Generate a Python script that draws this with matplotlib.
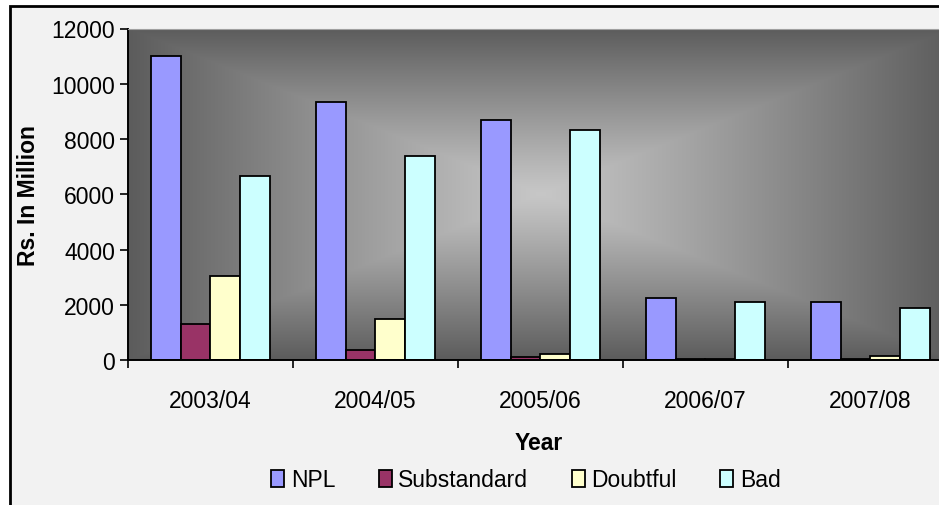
import matplotlib
matplotlib.use("Agg")
import matplotlib.pyplot as plt
import numpy as np
from matplotlib.patches import Rectangle

years = ["2003/04", "2004/05", "2005/06", "2006/07", "2007/08"]
npl = [11000, 9340, 8690, 2250, 2100]
substandard = [1300, 360, 120, 50, 50]
doubtful = [3040, 1500, 220, 50, 130]
bad = [6650, 7390, 8340, 2100, 1890]

series = [("NPL", npl, "#9999ff"), ("Substandard", substandard, "#993366"),
          ("Doubtful", doubtful, "#ffffcc"), ("Bad", bad, "#ccffff")]

plt.rcParams["font.family"] = ["Liberation Sans", "DejaVu Sans"]
FS = 16.5

fig = plt.figure(figsize=(9.39, 5.06), dpi=100)
fig.patch.set_facecolor("white")
# chart area frame
fig.patches.append(Rectangle((10 / 939, -0.05), 1.0, 1 - 7 / 506 + 0.05, transform=fig.transFigure,
                             facecolor="#f2f2f2", edgecolor="black", lw=2, zorder=-10))

ax = fig.add_axes([127.7 / 939, 1 - 361 / 506, (953 - 127.7) / 939, (361 - 29.5) / 506])

# rectangular "from center" gradient background
n = 400
u = np.linspace(0, 1, n)
v = np.linspace(0, 1, n)
U, V = np.meshgrid(u, v)
t = np.maximum(np.abs(U - 0.5) * 2, np.abs(V - 0.5) * 2)
g = 0.78 + (0.36 - 0.78) * t ** 1.1
ax.imshow(np.dstack([g, g, g]), extent=[0, 1, 0, 1], transform=ax.transAxes,
          aspect="auto", zorder=0, interpolation="bilinear")

x = np.arange(len(years))
w = 0.18
for i, (name, vals, col) in enumerate(series):
    ax.bar(x + (i - 1.5) * w, vals, w, color=col, edgecolor="black", lw=1.3,
           label=name, zorder=2)

ax.set_xlim(-0.5, len(years) - 0.5)
ax.set_ylim(0, 12000)
ax.set_yticks(range(0, 12001, 2000))
ax.set_xticks(np.arange(-0.5, len(years), 1.0))
ax.set_xticklabels([])
ax.set_xticks(x, minor=True)
ax.set_xticklabels(years, minor=True)
ax.tick_params(axis="x", which="major", direction="out", length=6, width=1.2)
ax.tick_params(axis="x", which="minor", length=0, pad=21, labelsize=FS)
ax.tick_params(axis="y", direction="out", length=6, width=1.2, pad=3, labelsize=FS)
for s in ["left", "bottom"]:
    ax.spines[s].set_linewidth(1.4)
ax.spines["top"].set_color("#a0a0a0")
ax.spines["right"].set_visible(False)

ax.set_ylabel("Rs. In Million", fontsize=FS, fontweight="bold", labelpad=8)
fig.text(539 / 939, 1 - 444 / 506, "Year", ha="center", va="center",
         fontsize=FS, fontweight="bold")

fig.legend(loc="center", bbox_to_anchor=(526 / 939, 1 - 481 / 506), ncol=4,
           frameon=False, fontsize=FS, handlelength=0.55, handleheight=0.8,
           handletextpad=0.3, columnspacing=1.9)

fig.savefig("out.png", dpi=100)
